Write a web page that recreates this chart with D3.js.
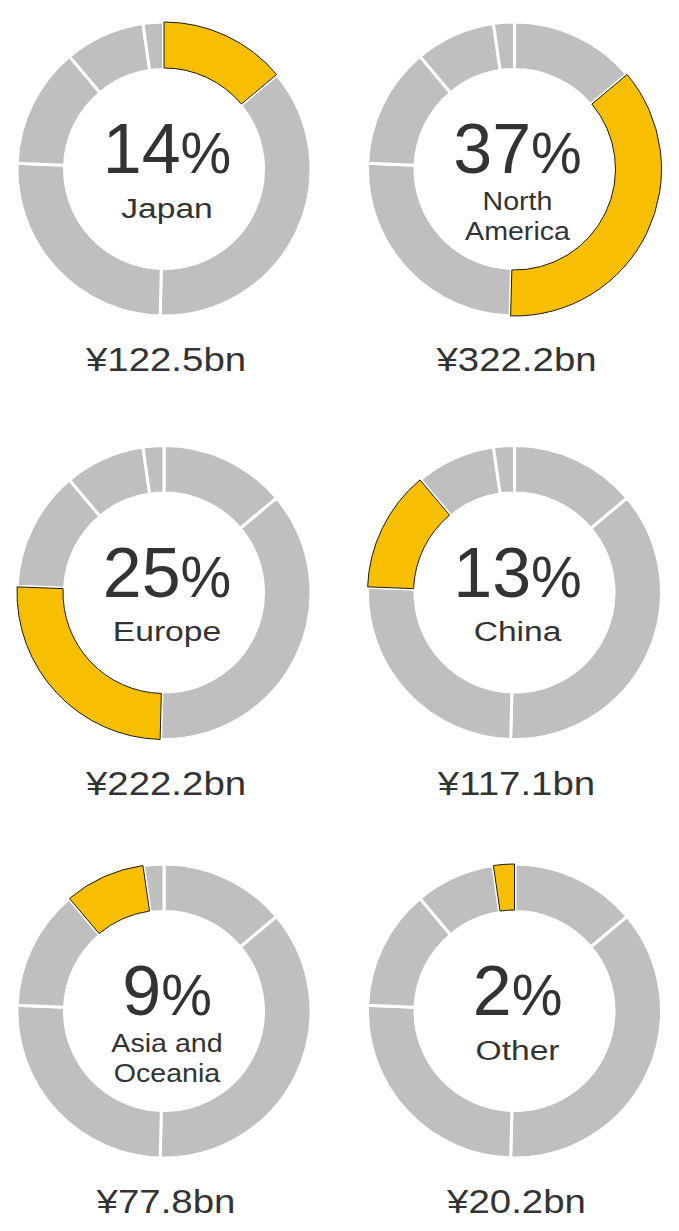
<!DOCTYPE html>
<html>
<head>
<meta charset="utf-8">
<script src="https://cdn.jsdelivr.net/npm/d3@7"></script>
<style>
  body { margin: 0; background: #fff; }
  text { font-family: "Liberation Sans", Arial, sans-serif; fill: #333; }
</style>
</head>
<body>
<script>
// sales by region (billion yen), share shown in the middle of each ring
var regions = ["Japan", "North America", "Europe", "China", "Asia and Oceania", "Other"];
var sales = [122.5, 322.2, 222.2, 117.1, 77.8, 20.2];
var shares = [14, 37, 25, 13, 9, 2];
var labelLines = [["Japan"], ["North", "America"], ["Europe"], ["China"], ["Asia and", "Oceania"], ["Other"]];

var width = 679,
    height = 1231;

var colX = [164, 514.5],
    rowY = [169, 592.5, 1011];

var grey = "#bfbfbf",
    yellow = "#f8bf00";

var svg = d3.select("body").append("svg")
    .attr("width", width)
    .attr("height", height);

var pie = d3.pie().sort(null).value(function (d) { return d; });
var slices = pie(sales);

var greyArc = d3.arc().innerRadius(99.5).outerRadius(147);
var hiArc = d3.arc().innerRadius(101).outerRadius(147);

regions.forEach(function (name, i) {
    var cx = colX[i % 2],
        cy = rowY[Math.floor(i / 2)];

    var g = svg.append("g")
        .attr("transform", "translate(" + cx + "," + cy + ")");

    // grey ring, white stroke makes the gaps
    g.selectAll(".seg")
        .data(slices.filter(function (s) { return s.index !== i; }))
        .enter().append("path")
        .attr("class", "seg")
        .attr("d", greyArc)
        .attr("fill", grey)
        .attr("stroke", "#fff")
        .attr("stroke-width", 3);

    // highlighted region
    var hi = slices[i];
    g.append("path")
        .attr("d", hiArc(hi))
        .attr("fill", "none")
        .attr("stroke", "#fff")
        .attr("stroke-width", 4);
    g.append("path")
        .attr("d", hiArc(hi))
        .attr("fill", yellow)
        .attr("stroke", "#1a1a1a")
        .attr("stroke-width", 1)
        .attr("stroke-linejoin", "miter");

    // percentage
    var pct = g.append("text")
        .attr("x", 3)
        .attr("y", 4)
        .attr("text-anchor", "middle");
    pct.append("tspan").style("font-size", "70px").text(shares[i]);
    pct.append("tspan").style("font-size", "57px").text("%");

    // region name
    var lines = labelLines[i];
    var one = lines.length === 1;
    lines.forEach(function (line, k) {
        var y = one ? 48.5 : 41 + k * 30;
        g.append("g")
            .attr("transform", "translate(3," + y + ") scale(" + (one ? 1.2 : 1.1) + ",1)")
            .append("text")
            .attr("text-anchor", "middle")
            .style("font-size", (one ? 28 : 26) + "px")
            .text(line);
    });

    // amount under the ring
    g.append("g")
        .attr("transform", "translate(2,202) scale(1.13,1)")
        .append("text")
        .attr("text-anchor", "middle")
        .style("font-size", "34px")
        .text("¥" + d3.format(".1f")(sales[i]) + "bn");
});
</script>
</body>
</html>
